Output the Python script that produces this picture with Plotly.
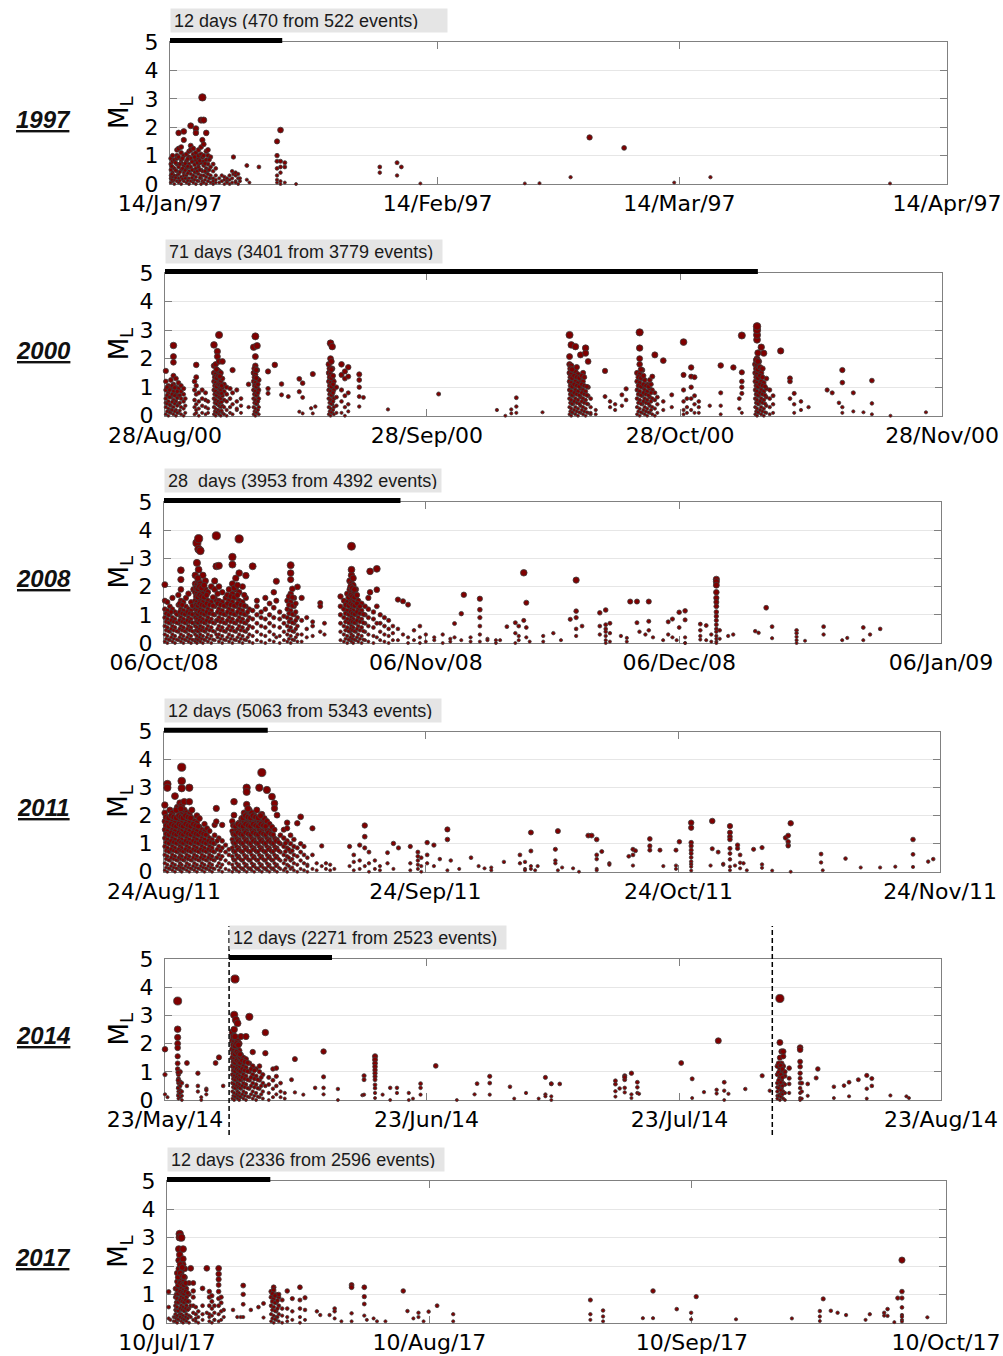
import pandas as pd
import plotly.graph_objects as go

# ---------------- data (day offset from axis start, [local magnitudes]) ----------------
YEARS = ["1997", "2000", "2008", "2011", "2014", "2017"]
STARTS = ["1997-01-14", "2000-08-28", "2008-10-06", "2011-08-24", "2014-05-23", "2017-07-10"]
ENDS = ["1997-04-14", "2000-11-28", "2009-01-06", "2011-11-24", "2014-08-23", "2017-10-10"]
TICKS = [
    ["1997-01-14", "1997-02-14", "1997-03-14", "1997-04-14"],
    ["2000-08-28", "2000-09-28", "2000-10-28", "2000-11-28"],
    ["2008-10-06", "2008-11-06", "2008-12-06", "2009-01-06"],
    ["2011-08-24", "2011-09-24", "2011-10-24", "2011-11-24"],
    ["2014-05-23", "2014-06-23", "2014-07-23", "2014-08-23"],
    ["2017-07-10", "2017-08-10", "2017-09-10", "2017-10-10"],
]
LABELS = [
    "12 days (470 from 522 events)",
    "71 days (3401 from 3779 events)",
    "28  days (3953 from 4392 events)",
    "12 days (5063 from 5343 events)",
    "12 days (2271 from 2523 events)",
    "12 days (2336 from 2596 events)",
]
# span of the black bar (start day, end day)
BARS = [(0.0, 13.0), (0.0, 70.2), (0.0, 28.0), (0.0, 12.3), (7.6, 19.8), (0.0, 12.2)]
# dashed markers of main shocks (2014 panel), day offsets
MAINSHOCKS_2014 = [7.6, 72.0]

EV_1997 = [
    (0.1, [0.05, 0.2, 0.5, 0.3, 0.9, 0.7]), (0.3, [0.1, 0.4, 0.8, 1.0, 0.6, 0.25]),
    (0.5, [0.0, 0.3, 0.55, 0.85, 0.15]), (0.8, [0.1, 0.45, 0.7, 1.0, 1.2, 0.9, 0.3]),
    (1.0, [0.05, 0.35, 0.6, 0.95, 1.8, 1.25, 0.2]), (1.3, [0.0, 0.25, 0.5, 0.75, 1.1, 1.3, 0.85]),
    (1.6, [0.1, 0.4, 0.65, 1.55, 1.85, 1.0, 0.3]), (1.9, [0.05, 0.3, 0.55, 0.8, 1.05, 0.2]),
    (2.2, [0.0, 0.2, 0.45, 0.7, 0.95, 1.15, 0.6]), (2.4, [0.1, 0.35, 0.6, 0.9, 1.35, 2.05, 1.2]),
    (2.7, [0.05, 0.3, 0.5, 0.8, 1.05, 1.25, 0.15]), (3.0, [0.0, 0.25, 0.55, 0.85, 1.1, 1.95, 1.8, 0.4]),
    (3.3, [0.1, 0.35, 0.6, 0.9, 1.2, 1.0, 0.7]), (3.6, [0.0, 0.2, 0.5, 0.75, 1.05, 1.3, 2.25, 0.3]),
    (3.75, [3.05, 1.55, 0.95, 0.45, 0.1]), (3.9, [0.05, 0.3, 0.65, 1.0, 1.4, 2.25, 0.8]),
    (4.2, [0.0, 0.25, 0.55, 0.85, 1.15, 1.8, 0.4]), (4.4, [0.1, 0.35, 0.7, 1.0, 1.2, 0.5]),
    (4.7, [0.05, 0.3, 0.6, 0.95, 0.2]), (5.0, [0.0, 0.2, 0.45, 0.7, 0.1]), (5.3, [0.05, 0.3, 0.55, 0.15]),
    (5.7, [0.05, 0.2]), (6.0, [0.1, 0.3]), (6.3, [0.0, 0.15, 0.25]), (6.6, [0.1, 0.2, 0.05]),
    (6.9, [0.3, 0.15, 0.0]), (7.2, [0.05, 0.45, 0.2]), (7.35, [0.95, 0.35]), (7.6, [0.1, 0.3, 0.4, 0.05]),
    (7.9, [0.2, 0.35, 0.0]), (8.1, [0.1, 0.2]), (8.9, [0.65, 0.15]), (9.2, [0.05]), (10.3, [0.6]),
    (12.4, [1.0, 1.5, 0.8, 0.55, 0.3, 0.05, 0.15]), (12.8, [1.9, 0.8, 0.6, 0.4, 0.1, 0.0]),
    (13.3, [0.75, 0.6, 0.05]), (14.6, [0.0]), (24.3, [0.4, 0.6]), (26.3, [0.75, 0.3]), (26.8, [0.6]),
    (29.0, [0.02]), (41.1, [0.02]), (42.8, [0.03]), (46.4, [0.24]), (48.6, [1.64]), (52.6, [1.27]),
    (58.4, [0.05]), (62.6, [0.24]), (83.4, [0.02]),
    (0.2, [0.15, 0.62, 0.35]), (0.65, [0.22, 0.48, 0.75]), (1.15, [0.12, 0.42, 0.7]),
    (1.45, [0.18, 0.55, 0.9]), (1.75, [0.2, 0.48, 0.72]), (2.05, [0.12, 0.38, 0.62, 0.88]),
    (2.55, [0.22, 0.5, 0.78]), (2.85, [0.15, 0.42, 0.68, 0.95]), (3.15, [0.12, 0.45, 0.75]),
    (3.45, [0.22, 0.5, 0.82]), (4.05, [0.15, 0.45, 0.72]), (4.55, [0.2, 0.5, 0.85]),
]

EV_2000 = [
    (0.1, [0.05, 0.3, 0.6, 0.9, 1.2, 1.57, 0.45]), (0.4, [0.0, 0.25, 0.5, 0.8, 1.05, 0.15]),
    (0.7, [0.1, 0.35, 0.65, 0.95, 1.25, 0.2]), (1.0, [0.05, 0.3, 0.55, 0.85, 1.1, 1.4, 1.87, 2.07, 2.46]),
    (1.3, [0.0, 0.2, 0.5, 0.75, 1.0, 1.3]), (1.6, [0.1, 0.4, 0.7, 0.95, 1.15]),
    (1.9, [0.05, 0.3, 0.6, 0.85, 1.05]), (2.2, [0.0, 0.25, 0.5, 0.75, 0.95]), (2.4, [0.1, 0.35, 0.6]),
    (3.5, [0.05, 0.3, 0.55, 0.9, 1.2]), (3.7, [0.1, 0.4, 0.75, 1.05, 1.35, 1.78, 0.2]),
    (4.0, [0.0, 0.25, 0.5, 0.8]), (4.4, [0.1, 0.35, 0.6, 0.9]), (4.8, [0.05, 0.3, 0.55, 0.8]),
    (5.1, [0.1, 0.25, 0.5]),
    (5.8, [0.05, 0.3, 0.6, 0.9, 1.2, 1.5, 1.75, 2.48]), (6.0, [0.0, 0.25, 0.55, 0.85, 1.15, 1.45, 1.8]),
    (6.2, [0.1, 0.4, 0.7, 1.0, 1.3, 1.6, 2.25, 2.07]), (6.4, [0.05, 0.35, 0.65, 0.95, 1.25, 1.55, 2.83, 1.9]),
    (6.6, [0.0, 0.3, 0.6, 0.9, 1.2, 1.5]), (6.8, [0.1, 0.35, 0.7, 1.0, 1.3, 1.9]),
    (7.0, [0.05, 0.3, 0.55, 0.85, 1.1]), (7.3, [0.0, 0.2, 0.5, 0.75, 1.0]), (7.7, [0.1, 0.3, 0.6, 0.95]),
    (8.0, [1.6, 0.8, 0.4, 0.05]), (8.5, [0.2, 0.5, 0.9, 0.25]), (9.0, [0.1, 0.35, 0.6]), (9.9, [1.1, 0.3]),
    (10.5, [0.05, 0.3, 0.6, 0.9, 1.2, 1.5, 2.4]),
    (10.7, [0.0, 0.25, 0.55, 0.85, 1.15, 1.45, 1.75, 2.07, 2.78]),
    (10.9, [0.1, 0.4, 0.7, 1.0, 1.3, 1.6, 2.45]), (11.1, [0.05, 0.3, 0.6, 0.9, 1.25]),
    (12.2, [1.55, 0.78, 0.95]), (13.0, [1.78]), (13.8, [1.11, 0.73]), (14.6, [0.67]),
    (15.9, [1.29, 0.84, 0.14]), (16.3, [1.14, 0.64, 0.08]), (17.3, [0.26]), (17.5, [1.46, 0.08]),
    (17.8, [0.32]),
    (19.4, [0.05, 0.3, 0.6, 0.9, 1.2, 1.5, 1.8]), (19.6, [0.0, 0.25, 0.55, 0.85, 1.15, 1.45, 2.0, 2.54]),
    (19.8, [0.1, 0.4, 0.7, 1.0, 1.3, 1.65, 2.42]), (20.0, [0.05, 0.3, 0.6, 0.9, 1.2]),
    (20.3, [0.1, 0.35, 0.65, 1.0]), (20.9, [1.8, 1.43, 0.9, 0.5, 0.1]), (21.3, [1.55, 1.3, 0.7, 0.3, 0.0]),
    (21.7, [1.7, 1.37, 0.8, 0.4, 0.15]), (23.0, [1.45, 1.25, 1.0, 0.67, 0.32]), (23.5, [0.64]),
    (26.4, [0.22]), (32.4, [0.76]), (39.3, [0.2]), (40.3, [0.0]), (41.0, [0.22, 0.08]),
    (41.6, [0.63, 0.32, 0.1]), (44.7, [0.12]),
    (47.9, [0.05, 0.3, 0.6, 0.9, 1.2, 1.5, 1.8, 2.07, 2.83]),
    (48.1, [0.0, 0.25, 0.55, 0.85, 1.15, 1.45, 1.75, 2.48]), (48.3, [0.1, 0.4, 0.7, 1.0, 1.3, 1.6]),
    (48.6, [0.05, 0.3, 0.6, 0.9, 1.2, 1.55, 2.42]), (48.9, [0.0, 0.25, 0.55, 0.85, 1.15, 1.45]),
    (49.2, [0.1, 0.35, 0.65, 0.95, 1.25, 2.13]), (49.5, [0.05, 0.3, 0.6, 0.9, 1.2, 1.5]),
    (49.8, [0.0, 0.25, 0.55, 0.85, 2.37, 2.19]), (50.1, [0.1, 0.4, 0.7, 1.0, 1.9]),
    (50.4, [0.05, 0.3, 0.6, 0.1]), (51.0, [0.05, 0.2]), (52.1, [1.57, 0.67]), (52.7, [0.3, 0.5]),
    (53.3, [0.4, 0.2]), (54.1, [0.73, 0.35]), (54.6, [0.94, 0.55]),
    (55.9, [0.05, 0.3, 0.6, 0.9, 1.2, 1.5]),
    (56.2, [0.0, 0.25, 0.55, 0.85, 1.15, 1.45, 1.8, 2.0, 2.37, 2.92]),
    (56.5, [0.1, 0.4, 0.7, 1.0, 1.3, 1.6]), (56.8, [0.05, 0.3, 0.6, 0.9, 1.25]),
    (57.1, [0.0, 0.25, 0.55, 0.85, 1.1]), (57.4, [0.1, 0.35, 0.65, 0.95, 1.25]),
    (57.7, [0.05, 0.3, 0.6, 0.9, 1.37]), (58.0, [0.0, 0.25, 0.55, 0.8, 2.13]), (58.3, [0.1, 0.4, 0.65]),
    (59.0, [1.93, 0.5, 0.2]), (60.0, [0.73, 0.3]), (61.4, [2.58, 1.43, 0.9, 0.5, 0.2, 0.05]),
    (61.8, [0.6, 0.3, 0.1]), (62.3, [1.69, 1.37, 1.0, 0.6, 0.2]), (62.7, [1.35, 0.7, 0.4, 0.1]),
    (63.2, [0.5, 0.3, 0.1]), (64.5, [0.35]), (65.8, [1.76, 0.8, 0.35, 0.05]), (67.3, [1.69]),
    (68.0, [0.6, 0.25]), (68.3, [2.81, 1.52, 1.2, 1.0, 0.78, 0.1]),
    (69.9, [0.05, 0.3, 0.6, 0.9, 1.2, 1.5, 1.8]),
    (70.1, [0.0, 0.25, 0.55, 0.85, 1.15, 1.45, 1.75, 2.0, 2.66, 2.83, 3.0, 3.13]),
    (70.3, [0.1, 0.4, 0.7, 1.0, 1.3, 1.6, 1.9]), (70.6, [0.05, 0.3, 0.6, 0.9, 1.2, 1.5, 2.4]),
    (70.9, [0.0, 0.25, 0.55, 0.85, 1.15, 2.19]), (71.2, [0.1, 0.35, 0.65, 0.95, 1.3]),
    (71.6, [0.05, 0.3, 0.6, 0.9]), (72.0, [0.1, 0.4, 0.7]), (72.9, [2.27]), (74.0, [1.31, 1.2, 0.6]),
    (74.5, [0.78, 0.4, 0.1]), (75.3, [0.5, 0.2]), (76.2, [0.3]), (78.4, [0.9]), (79.0, [0.8]),
    (79.8, [0.45]), (80.2, [1.6, 1.16, 0.3, 0.1]), (81.5, [0.8, 0.15]), (82.7, [0.12]),
    (83.7, [1.23, 0.43, 0.05]), (85.9, [0.0]), (90.1, [0.12]),
    # additional readings inside the dense swarms
    (0.25, [0.15, 0.42, 0.72, 1.0]), (0.55, [0.12, 0.38, 0.65, 0.9]), (0.85, [0.2, 0.48, 0.75, 1.05]),
    (1.15, [0.15, 0.42, 0.7, 0.98]), (1.45, [0.1, 0.35, 0.62, 0.85]), (1.75, [0.18, 0.45, 0.72]),
    (5.9, [0.15, 0.45, 0.75, 1.05, 1.35]), (6.1, [0.12, 0.42, 0.72, 1.02, 1.32, 1.62]),
    (6.3, [0.2, 0.5, 0.8, 1.1, 1.4]), (6.5, [0.15, 0.45, 0.78, 1.08, 1.38]), (6.7, [0.18, 0.48, 0.78, 1.05]),
    (10.6, [0.15, 0.45, 0.75, 1.05, 1.35, 1.65]), (10.8, [0.12, 0.42, 0.72, 1.02, 1.32, 1.6]),
    (11.0, [0.2, 0.5, 0.8, 1.1]), (19.5, [0.15, 0.45, 0.75, 1.05, 1.35, 1.65]),
    (19.7, [0.12, 0.42, 0.72, 1.02, 1.32, 1.62, 1.9]), (19.9, [0.2, 0.5, 0.8, 1.1, 1.4]),
    (48.0, [0.15, 0.45, 0.75, 1.05, 1.35, 1.65]), (48.2, [0.12, 0.42, 0.72, 1.02, 1.32, 1.62]),
    (48.45, [0.2, 0.5, 0.8, 1.1, 1.4]), (48.75, [0.15, 0.45, 0.75, 1.05, 1.35, 1.7]),
    (49.05, [0.12, 0.42, 0.72, 1.02, 1.32]), (49.35, [0.2, 0.5, 0.8, 1.1, 1.4]),
    (49.65, [0.15, 0.45, 0.75, 1.05, 1.35]), (49.95, [0.12, 0.42, 0.72, 1.02]),
    (56.05, [0.15, 0.45, 0.75, 1.05, 1.35]), (56.35, [0.12, 0.42, 0.72, 1.02, 1.32, 1.62]),
    (56.65, [0.2, 0.5, 0.8, 1.1, 1.4]), (56.95, [0.15, 0.45, 0.75, 1.05]),
    (57.25, [0.12, 0.42, 0.72, 1.02]), (57.55, [0.2, 0.5, 0.8, 1.1]),
    (70.0, [0.15, 0.45, 0.75, 1.05, 1.35, 1.65, 1.95]), (70.2, [0.12, 0.42, 0.72, 1.02, 1.32, 1.62, 1.9, 2.2]),
    (70.45, [0.2, 0.5, 0.8, 1.1, 1.4, 1.7]), (70.75, [0.15, 0.45, 0.75, 1.05, 1.35, 1.65]),
    (71.05, [0.12, 0.42, 0.72, 1.02]),
]

EV_2008 = [
    (0.1, [0.05, 0.3, 0.6, 0.9, 1.2, 1.5, 2.07]), (0.4, [0.0, 0.25, 0.55, 0.85, 1.15, 1.45]),
    (0.7, [0.1, 0.4, 0.7, 1.0, 1.3]), (1.0, [0.05, 0.3, 0.6, 0.9, 1.2, 1.6]),
    (1.3, [0.0, 0.25, 0.55, 0.85, 1.1]), (1.7, [0.1, 0.4, 0.7, 1.0, 1.35, 1.7]),
    (2.0, [0.05, 0.3, 0.6, 0.9, 1.2, 1.5, 1.9, 2.25, 2.58]), (2.3, [0.0, 0.25, 0.55, 0.85, 1.15, 1.45]),
    (2.6, [0.1, 0.4, 0.7, 1.0, 1.3, 1.6]), (2.9, [0.05, 0.3, 0.6, 0.9, 1.2, 1.75]),
    (3.2, [0.0, 0.25, 0.55, 0.85, 1.15, 1.45]), (3.5, [0.1, 0.4, 0.7, 1.0, 1.3, 1.9]),
    (3.7, [0.05, 0.3, 0.6, 0.9, 1.2, 1.5, 1.8, 2.1, 2.4]),
    (3.9, [0.0, 0.25, 0.55, 0.85, 1.15, 1.45, 1.75, 2.05, 2.84, 3.55]),
    (4.1, [0.1, 0.4, 0.7, 1.0, 1.3, 1.6, 1.9, 2.2, 2.6, 3.33, 3.7]),
    (4.3, [0.05, 0.3, 0.6, 0.9, 1.2, 1.5, 1.8, 2.1, 3.27]),
    (4.6, [0.0, 0.25, 0.55, 0.85, 1.15, 1.45, 1.75, 2.0, 2.4]),
    (4.9, [0.1, 0.4, 0.7, 1.0, 1.3, 1.6, 1.9, 2.2]), (5.2, [0.05, 0.3, 0.6, 0.9, 1.2, 1.5, 1.8]),
    (5.6, [0.0, 0.25, 0.55, 0.85, 1.15, 1.45, 2.0]), (6.0, [0.1, 0.4, 0.7, 1.0, 1.3, 1.6, 1.9, 2.2]),
    (6.2, [3.8, 2.72, 1.5, 0.8, 0.3]), (6.5, [0.05, 0.3, 0.6, 0.9, 1.2, 1.5, 2.0, 2.74]),
    (6.9, [0.0, 0.25, 0.55, 0.85, 1.15, 1.45, 1.8]), (7.3, [0.1, 0.4, 0.7, 1.0, 1.3, 1.6]),
    (7.7, [0.05, 0.3, 0.6, 0.9, 1.2, 1.5, 1.9]),
    (8.1, [0.0, 0.25, 0.55, 0.85, 1.15, 1.45, 1.75, 2.1, 2.78, 3.05]),
    (8.5, [0.1, 0.4, 0.7, 1.0, 1.3, 1.6, 1.9, 2.3]),
    (8.9, [0.05, 0.3, 0.6, 0.9, 1.2, 1.5, 1.8, 2.48, 3.69]),
    (9.3, [0.0, 0.25, 0.55, 0.85, 1.15, 1.45, 2.0]), (9.7, [0.1, 0.4, 0.7, 1.0, 1.3, 1.6, 2.39]),
    (10.1, [0.05, 0.3, 0.6, 0.9, 1.2]), (10.5, [0.0, 0.25, 0.55, 0.85, 1.15, 2.72]),
    (11.0, [0.1, 0.4, 0.7, 1.0, 1.3, 1.5]), (11.5, [0.05, 0.3, 0.6, 0.9, 1.1]),
    (12.0, [0.0, 0.25, 0.55, 0.85, 1.2, 1.6]), (12.5, [0.1, 0.4, 0.7, 1.0, 1.4]),
    (13.0, [0.05, 0.3, 0.6, 0.9, 1.25, 1.8]), (13.3, [2.19, 1.5, 0.2]),
    (13.7, [0.0, 0.25, 0.55, 0.85, 1.1]), (14.2, [0.1, 0.4, 0.7, 0.95]),
    (14.6, [0.05, 0.3, 0.6, 0.9, 1.2, 1.5]),
    (15.0, [0.0, 0.25, 0.55, 0.85, 1.15, 1.45, 1.75, 2.25, 2.48, 2.76]),
    (15.4, [0.1, 0.4, 0.7, 1.0, 1.3, 1.6]), (15.8, [0.05, 0.3, 0.6, 0.9, 1.99]),
    (16.3, [1.6, 0.8, 0.3, 0.05]), (16.9, [0.9, 0.5, 0.2]), (17.6, [0.6, 0.75, 0.25]),
    (18.5, [1.42, 1.3, 0.4]), (19.0, [0.7, 0.3]),
    (20.9, [0.1, 0.4, 0.7, 1.0, 1.3, 1.65]), (21.3, [0.05, 0.3, 0.6, 0.9, 1.2, 1.5]),
    (21.7, [0.0, 0.25, 0.55, 0.85, 1.15, 1.45, 1.75]), (22.0, [0.1, 0.4, 0.7, 1.0, 1.3, 1.6, 1.9, 2.2]),
    (22.2, [0.05, 0.3, 0.6, 0.9, 1.2, 1.5, 1.8, 2.1, 2.4, 2.6, 3.43]),
    (22.4, [0.0, 0.25, 0.55, 0.85, 1.15, 1.45, 1.75, 2.05, 2.3]),
    (22.7, [0.1, 0.4, 0.7, 1.0, 1.3, 1.6, 1.9]), (23.0, [0.05, 0.3, 0.6, 0.9, 1.2, 1.5]),
    (23.4, [0.0, 0.25, 0.55, 0.85, 1.15, 1.4]), (23.8, [0.1, 0.4, 0.7, 1.0, 1.3]),
    (24.2, [0.05, 0.3, 0.6, 0.9, 1.2, 1.6]), (24.4, [2.54, 1.8]), (24.8, [0.0, 0.25, 0.55, 0.85, 1.1]),
    (25.2, [2.63, 1.89, 1.3, 0.7, 0.2]), (25.6, [0.1, 0.4, 0.7, 1.0]), (26.1, [0.05, 0.3, 0.6, 0.9]),
    (26.6, [0.0, 0.25, 0.5, 0.8]), (27.1, [0.1, 0.35, 0.6]), (27.7, [1.54, 0.5, 0.1]),
    (28.3, [1.48, 0.3]), (28.9, [1.36, 0.2, 0.0]), (29.6, [0.45, 0.1]), (30.3, [0.6, 0.2, 0.0]),
    (31.0, [0.3, 0.05]), (32.0, [0.2, 0.1]), (33.0, [0.3, 0.0]), (33.9, [0.15, 0.05]), (34.4, [0.69, 0.2]),
    (35.2, [1.04, 0.1]), (35.5, [1.71]), (36.3, [0.2, 0.05]), (37.4, [1.57, 1.18, 0.9, 0.6, 0.3, 0.05]),
    (38.3, [0.15, 0.1]), (39.3, [0.1, 0.0]), (39.8, [0.1]), (40.6, [0.58]), (41.6, [0.72, 0.35, 0.0]),
    (42.0, [0.6, 0.25, 0.1]), (42.6, [2.49, 0.8]), (42.9, [1.43, 0.55, 0.2]), (43.3, [0.05]),
    (44.9, [0.25, 0.05]), (46.1, [0.35]), (47.0, [0.1]), (48.1, [0.84]),
    (48.8, [2.23, 1.13, 0.9, 0.5, 0.25]), (49.5, [0.6]), (51.6, [1.07, 0.6, 0.3]),
    (52.3, [1.17, 0.65, 0.5, 0.4, 0.25, 0.1, 0.0]), (52.8, [0.7, 0.35, 0.05]), (54.1, [0.25]),
    (54.8, [0.18, 0.05]), (55.2, [1.47]), (56.0, [1.47, 0.72]), (56.3, [0.4]), (57.0, [0.3]),
    (57.4, [1.47, 0.77, 0.45]), (57.9, [0.2]), (59.1, [0.1]), (59.7, [0.75, 0.3]), (60.2, [0.85, 0.2]),
    (60.7, [0.1]), (61.0, [1.09, 0.55]), (61.7, [1.14, 0.82, 0.2, 0.0, 0.0]),
    (63.5, [0.67, 0.45, 0.25, 0.12]), (64.2, [0.62, 0.1]), (64.8, [0.3, 0.05]),
    (65.4, [2.26, 2.17, 2.05, 1.8, 1.6, 1.45, 1.3, 1.1, 0.95, 0.8, 0.65, 0.5, 0.4, 0.25, 0.15, 0.05, 0.0]),
    (65.8, [0.45, 0.15]), (66.8, [0.25]), (67.4, [0.3]), (70.0, [0.42]), (70.4, [0.36]), (71.3, [1.25]),
    (72.0, [0.58, 0.17]), (74.9, [0.45, 0.35, 0.22, 0.1, 0.0]), (75.9, [0.08]), (78.1, [0.58, 0.3]),
    (80.3, [0.1]), (80.9, [0.18]), (82.8, [0.55, 0.1]), (83.6, [0.3]), (84.8, [0.5]),
    # additional readings inside the dense swarms
    (0.25, [0.15, 0.45, 0.75, 1.05]), (0.55, [0.12, 0.42, 0.72, 1.0]), (0.85, [0.2, 0.5, 0.8, 1.1]),
    (1.15, [0.15, 0.45, 0.75]), (1.5, [0.12, 0.42, 0.72, 1.02]), (1.85, [0.2, 0.5, 0.8, 1.1, 1.4]),
    (2.15, [0.15, 0.45, 0.75, 1.05, 1.35]), (2.45, [0.12, 0.42, 0.72, 1.02]), (2.75, [0.2, 0.5, 0.8, 1.1]),
    (3.05, [0.15, 0.45, 0.75, 1.05]), (3.35, [0.12, 0.42, 0.72, 1.02, 1.32]),
    (3.8, [0.15, 0.45, 0.75, 1.05, 1.35, 1.65, 1.95]), (4.0, [0.12, 0.42, 0.72, 1.02, 1.32, 1.62, 1.92, 2.3]),
    (4.2, [0.2, 0.5, 0.8, 1.1, 1.4, 1.7, 2.0]), (4.45, [0.15, 0.45, 0.75, 1.05, 1.35, 1.65, 1.95]),
    (4.75, [0.12, 0.42, 0.72, 1.02, 1.32, 1.62, 2.05]), (5.05, [0.2, 0.5, 0.8, 1.1, 1.4, 1.7]),
    (5.4, [0.15, 0.45, 0.75, 1.05, 1.35]), (5.8, [0.12, 0.42, 0.72, 1.02, 1.32, 1.62]),
    (6.35, [0.2, 0.5, 0.8, 1.1, 1.4, 1.75]), (6.7, [0.15, 0.45, 0.75, 1.05, 1.35]),
    (7.1, [0.12, 0.42, 0.72, 1.02, 1.32]), (7.5, [0.2, 0.5, 0.8, 1.1, 1.4, 1.7]),
    (7.9, [0.15, 0.45, 0.75, 1.05, 1.35, 1.65]), (8.3, [0.12, 0.42, 0.72, 1.02, 1.32, 1.62, 1.95]),
    (8.7, [0.2, 0.5, 0.8, 1.1, 1.4, 1.7, 2.05]), (9.1, [0.15, 0.45, 0.75, 1.05, 1.35]),
    (9.5, [0.12, 0.42, 0.72, 1.02, 1.32, 1.7]), (9.9, [0.2, 0.5, 0.8, 1.1]),
    (14.8, [0.15, 0.45, 0.75, 1.05, 1.35, 1.65]), (15.2, [0.12, 0.42, 0.72, 1.02, 1.32, 1.62, 1.92]),
    (15.6, [0.2, 0.5, 0.8, 1.1, 1.4]),
    (21.5, [0.15, 0.45, 0.75, 1.05, 1.35]), (21.85, [0.12, 0.42, 0.72, 1.02, 1.32, 1.62]),
    (22.1, [0.2, 0.5, 0.8, 1.1, 1.4, 1.7, 2.0]), (22.3, [0.15, 0.45, 0.75, 1.05, 1.35, 1.65, 1.95]),
    (22.55, [0.12, 0.42, 0.72, 1.02, 1.32, 1.62, 1.9]), (22.85, [0.2, 0.5, 0.8, 1.1, 1.4, 1.7]),
    (23.2, [0.15, 0.45, 0.75, 1.05, 1.3]), (23.6, [0.12, 0.42, 0.72, 1.02]),
]

EV_2011 = [
    (0.1, [0.05, 0.3, 0.6, 0.9, 1.2, 1.5, 1.8, 2.1, 2.38]),
    (0.4, [0.0, 0.25, 0.55, 0.85, 1.15, 1.45, 1.75, 3.13, 3.0]),
    (0.7, [0.1, 0.4, 0.7, 1.0, 1.3, 1.6, 1.9, 2.2]), (1.0, [0.05, 0.3, 0.6, 0.9, 1.2, 1.5, 1.8, 2.1]),
    (1.3, [0.0, 0.25, 0.55, 0.85, 1.15, 1.45, 1.75, 2.7]), (1.6, [0.1, 0.4, 0.7, 1.0, 1.3, 1.6, 1.9, 2.3]),
    (1.9, [0.05, 0.3, 0.6, 0.9, 1.2, 1.5, 1.8, 2.1, 2.45]),
    (2.1, [0.0, 0.25, 0.55, 0.85, 1.15, 1.45, 1.75, 2.05, 2.35, 2.98, 3.24, 3.73]),
    (2.4, [0.1, 0.4, 0.7, 1.0, 1.3, 1.6, 1.9, 2.2, 2.5]), (2.7, [0.05, 0.3, 0.6, 0.9, 1.2, 1.5, 1.8, 2.1]),
    (3.0, [0.0, 0.25, 0.55, 0.85, 1.15, 1.45, 1.75, 2.05, 2.5, 3.0]),
    (3.3, [0.1, 0.4, 0.7, 1.0, 1.3, 1.6, 1.9, 2.2]), (3.6, [0.05, 0.3, 0.6, 0.9, 1.2, 1.5, 1.8]),
    (3.9, [0.0, 0.25, 0.55, 0.85, 1.15, 1.45, 1.75, 2.0]), (4.2, [0.1, 0.4, 0.7, 1.0, 1.3, 1.6, 1.9]),
    (4.5, [0.05, 0.3, 0.6, 0.9, 1.2, 1.5]), (4.8, [0.0, 0.25, 0.55, 0.85, 1.15, 1.45, 1.7]),
    (5.1, [0.1, 0.4, 0.7, 1.0, 1.3, 1.55]), (5.4, [0.05, 0.3, 0.6, 0.9, 1.2, 1.45]),
    (5.7, [0.0, 0.25, 0.55, 0.85, 1.15]), (6.0, [0.1, 0.4, 0.7, 1.0, 1.3, 1.67]), (6.2, [2.26, 1.79, 0.5]),
    (6.5, [0.05, 0.3, 0.6, 0.9, 1.2]), (6.9, [0.0, 0.25, 0.55, 0.85, 1.1, 1.67]),
    (7.3, [0.1, 0.4, 0.7, 0.95]), (7.7, [0.05, 0.3, 0.6, 0.8]),
    (8.1, [0.0, 0.25, 0.55, 0.85, 1.15, 1.45, 1.8]), (8.3, [0.1, 0.4, 0.7, 1.0, 1.3, 2.02, 2.5]),
    (8.6, [0.05, 0.3, 0.6, 0.9, 1.2, 1.5]), (8.9, [0.0, 0.25, 0.55, 0.85, 1.15, 1.45, 1.75]),
    (9.2, [0.1, 0.4, 0.7, 1.0, 1.3, 1.6, 1.9]), (9.5, [0.05, 0.3, 0.6, 0.9, 1.2, 1.5, 1.8, 2.1]),
    (9.8, [0.0, 0.25, 0.55, 0.85, 1.15, 1.45, 1.75, 2.05, 2.4, 3.0, 2.85]),
    (10.1, [0.1, 0.4, 0.7, 1.0, 1.3, 1.6, 1.9, 2.2]), (10.4, [0.05, 0.3, 0.6, 0.9, 1.2, 1.5, 1.8, 2.1]),
    (10.7, [0.0, 0.25, 0.55, 0.85, 1.15, 1.45, 1.75, 2.0]), (11.0, [0.1, 0.4, 0.7, 1.0, 1.3, 1.6, 1.9, 2.2]),
    (11.3, [0.05, 0.3, 0.6, 0.9, 1.2, 1.5, 1.8, 3.0]),
    (11.6, [0.0, 0.25, 0.55, 0.85, 1.15, 1.45, 1.75, 2.05, 3.54]),
    (11.9, [0.1, 0.4, 0.7, 1.0, 1.3, 1.6, 1.9]), (12.2, [0.05, 0.3, 0.6, 0.9, 1.2, 1.5, 1.8, 2.92]),
    (12.5, [0.0, 0.25, 0.55, 0.85, 1.15, 1.45, 1.7]), (12.8, [0.1, 0.4, 0.7, 1.0, 1.3, 1.6, 2.68]),
    (13.1, [0.05, 0.3, 0.6, 0.9, 1.2, 1.5, 2.44, 2.26]), (13.4, [0.0, 0.25, 0.55, 0.85, 1.15, 2.02]),
    (13.8, [0.1, 0.4, 0.7, 1.0, 1.3]), (14.2, [0.05, 0.3, 0.6, 0.9, 1.2, 1.5]),
    (14.6, [0.0, 0.25, 0.55, 0.85, 1.1, 1.55, 1.75]), (15.0, [0.1, 0.4, 0.7, 1.0, 1.3]),
    (15.4, [0.05, 0.3, 0.6, 0.9, 1.15]), (15.8, [0.0, 0.25, 0.55, 0.85, 1.73]),
    (16.2, [0.1, 0.4, 0.7, 1.0, 1.96]), (16.6, [0.05, 0.3, 0.6, 0.9]), (17.0, [0.0, 0.25, 0.5, 0.2]),
    (17.6, [1.55, 0.6, 0.1]), (18.1, [0.3, 0.05]), (18.7, [0.92, 0.2]), (19.2, [0.3, 0.1]),
    (19.7, [0.25, 0.05]), (20.2, [0.1]), (22.0, [0.9, 0.2]), (22.5, [0.6, 0.35, 0.05]),
    (23.2, [0.95, 0.4, 0.1]), (23.8, [1.65, 1.25, 0.85, 0.2]), (24.3, [0.7, 0.3, 0.0]), (25.0, [0.4, 0.1]),
    (25.6, [0.2, 0.05]), (26.5, [0.68, 0.3]), (27.2, [1.01, 0.1]), (27.8, [0.85]),
    (29.2, [0.9, 0.3, 0.05]), (30.1, [0.7, 0.55, 0.4, 0.25, 0.1]), (30.5, [0.5, 0.2, 0.0]),
    (31.2, [1.04, 0.6, 0.3]), (32.0, [0.95, 0.2]), (32.7, [0.45]), (33.6, [1.51, 1.15, 0.05]),
    (34.0, [0.4]), (35.0, [0.1]), (36.4, [0.5]), (37.3, [0.2]), (38.0, [0.12]), (38.8, [0.15, 0.05]),
    (40.3, [0.35]), (42.2, [0.6, 0.3]), (42.8, [0.35, 0.1, 0.05]), (43.5, [0.74, 1.4, 0.2, 0.1]),
    (44.0, [0.05]), (44.3, [0.2]), (46.4, [0.8, 0.4, 0.3]), (46.7, [1.45, 0.05]), (47.2, [0.15]),
    (48.5, [0.12]), (49.2, [0.0]), (50.3, [1.29]), (50.7, [1.29]), (51.3, [1.15, 0.6, 0.45, 0.1, 0.05]),
    (51.9, [0.72]), (52.8, [0.3, 0.25]), (55.1, [0.55]), (55.6, [0.8, 0.6, 0.22]), (55.9, [0.75]),
    (57.6, [1.17, 0.92, 0.77]), (58.8, [0.77]), (59.2, [0.2]), (60.7, [0.77, 0.22, 0.1]), (61.1, [1.07]),
    (62.5, [1.75, 1.57, 1.04, 0.92, 0.77, 0.65, 0.51, 0.36, 0.27, 0.18, 0.04]),
    (64.8, [0.22]), (65.0, [1.81, 0.82]), (65.7, [0.7]), (66.3, [0.25, 0.28]),
    (67.1, [1.63, 1.4, 1.25, 1.15, 0.83, 0.65, 0.44, 0.18, 0.05]),
    (67.7, [0.22]), (68.0, [0.83, 0.95]), (68.3, [0.32, 0.6, 0.12]), (68.7, [0.3]), (69.1, [0.05]),
    (69.9, [0.8]), (70.9, [0.86, 0.26, 0.14]), (72.1, [0.04]), (73.7, [1.21]),
    (74.0, [1.07, 0.95, 0.92, 1.29]), (74.3, [1.73, 0.0]), (77.9, [0.63, 0.33]), (78.1, [0.05]),
    (80.8, [0.47]), (82.6, [0.15]), (84.9, [0.15]), (86.7, [0.18]), (88.8, [1.15, 0.62, 0.17]),
    (90.6, [0.36]), (91.2, [0.45]),
    # additional readings inside the dense swarms
    (0.25, [0.15, 0.45, 0.75, 1.05, 1.35, 1.65, 1.95]), (0.55, [0.12, 0.42, 0.72, 1.02, 1.32, 1.62, 1.92]),
    (0.85, [0.2, 0.5, 0.8, 1.1, 1.4, 1.7, 2.0]), (1.15, [0.15, 0.45, 0.75, 1.05, 1.35, 1.65, 1.95]),
    (1.45, [0.12, 0.42, 0.72, 1.02, 1.32, 1.62, 1.92, 2.2]), (1.75, [0.2, 0.5, 0.8, 1.1, 1.4, 1.7, 2.0]),
    (2.0, [0.15, 0.45, 0.75, 1.05, 1.35, 1.65, 1.95, 2.25]), (2.25, [0.12, 0.42, 0.72, 1.02, 1.32, 1.62, 1.92]),
    (2.55, [0.2, 0.5, 0.8, 1.1, 1.4, 1.7, 2.0]), (2.85, [0.15, 0.45, 0.75, 1.05, 1.35, 1.65, 1.95]),
    (3.15, [0.12, 0.42, 0.72, 1.02, 1.32, 1.62, 1.92]), (3.45, [0.2, 0.5, 0.8, 1.1, 1.4, 1.7]),
    (3.75, [0.15, 0.45, 0.75, 1.05, 1.35, 1.65]), (4.05, [0.12, 0.42, 0.72, 1.02, 1.32, 1.62]),
    (4.35, [0.2, 0.5, 0.8, 1.1, 1.4]), (4.65, [0.15, 0.45, 0.75, 1.05, 1.35]),
    (4.95, [0.12, 0.42, 0.72, 1.02, 1.32]), (5.25, [0.2, 0.5, 0.8, 1.1]), (5.55, [0.15, 0.45, 0.75, 1.05]),
    (5.85, [0.12, 0.42, 0.72, 1.02]), (6.3, [0.2, 0.5, 0.8, 1.1]), (6.7, [0.15, 0.45, 0.75]),
    (8.2, [0.15, 0.45, 0.75, 1.05, 1.35, 1.65]), (8.45, [0.12, 0.42, 0.72, 1.02, 1.32, 1.62]),
    (8.75, [0.2, 0.5, 0.8, 1.1, 1.4, 1.7]), (9.05, [0.15, 0.45, 0.75, 1.05, 1.35, 1.65]),
    (9.35, [0.12, 0.42, 0.72, 1.02, 1.32, 1.62, 1.92]), (9.65, [0.2, 0.5, 0.8, 1.1, 1.4, 1.7, 2.0]),
    (9.95, [0.15, 0.45, 0.75, 1.05, 1.35, 1.65, 1.95, 2.25]), (10.25, [0.12, 0.42, 0.72, 1.02, 1.32, 1.62, 1.92]),
    (10.55, [0.2, 0.5, 0.8, 1.1, 1.4, 1.7, 2.0]), (10.85, [0.15, 0.45, 0.75, 1.05, 1.35, 1.65, 1.95]),
    (11.15, [0.12, 0.42, 0.72, 1.02, 1.32, 1.62, 1.92]), (11.45, [0.2, 0.5, 0.8, 1.1, 1.4, 1.7, 2.0]),
    (11.75, [0.15, 0.45, 0.75, 1.05, 1.35, 1.65]), (12.05, [0.12, 0.42, 0.72, 1.02, 1.32, 1.62]),
    (12.35, [0.2, 0.5, 0.8, 1.1, 1.4]), (12.65, [0.15, 0.45, 0.75, 1.05, 1.35]),
    (12.95, [0.12, 0.42, 0.72, 1.02, 1.32]), (13.25, [0.2, 0.5, 0.8, 1.1]), (13.6, [0.15, 0.45, 0.75, 1.05]),
    (14.4, [0.12, 0.42, 0.72, 1.02]), (14.8, [0.2, 0.5, 0.8]), (15.2, [0.15, 0.45, 0.75]),
]

EV_2014 = [
    (0.0, [1.8, 0.9, 0.2]), (0.3, [0.1]), (1.5, [3.51, 2.51, 2.22, 2.0, 1.85, 1.55, 1.3, 1.1]),
    (1.6, [0.05, 0.3, 0.6, 0.9, 0.2, 0.45, 0.75]), (1.8, [0.1, 0.35, 0.65, 1.0, 0.5, 0.25]),
    (2.0, [0.0, 0.3, 0.6, 0.15]), (2.6, [1.31, 0.5]), (3.9, [0.95, 0.5, 0.3]), (4.3, [0.1, 0.0]),
    (4.9, [0.4, 0.2, 0.35]), (6.0, [1.31]), (6.4, [1.51]), (6.9, [0.5]),
    (8.0, [0.05, 0.3, 0.6, 0.9, 1.2, 1.5, 1.8, 2.1, 2.4]),
    (8.2, [0.0, 0.25, 0.55, 0.85, 1.15, 1.45, 1.75, 2.05, 2.5, 3.02]), (8.3, [4.29]),
    (8.4, [0.1, 0.4, 0.7, 1.0, 1.3, 1.6, 1.9, 2.2, 2.84]),
    (8.6, [0.05, 0.3, 0.6, 0.9, 1.2, 1.5, 1.8, 2.1, 2.72]),
    (8.8, [0.0, 0.25, 0.55, 0.85, 1.15, 1.45, 1.75, 2.0]), (9.0, [0.1, 0.4, 0.7, 1.0, 1.3, 1.6, 2.25]),
    (9.3, [0.05, 0.3, 0.6, 0.9, 1.2, 1.5]), (9.6, [0.0, 0.25, 0.55, 0.85, 1.15, 1.45, 2.25]),
    (10.0, [0.1, 0.4, 0.7, 1.0, 1.3, 2.95]), (10.4, [0.05, 0.3, 0.6, 0.9, 1.2, 1.7]),
    (10.8, [0.0, 0.25, 0.55, 0.85, 1.1]), (11.2, [0.1, 0.4, 0.7, 1.0, 1.2]), (11.6, [0.05, 0.3, 0.6, 0.9]),
    (11.9, [2.39, 1.66, 0.5]), (12.3, [0.0, 0.25, 0.55, 0.8]), (12.8, [0.1, 0.4, 0.7, 1.1]),
    (13.2, [1.13, 0.84, 0.5, 0.2]), (13.7, [0.3, 0.1, 0.6]), (14.2, [0.05, 0.25]), (15.0, [0.72]),
    (15.4, [1.45, 0.27]), (16.4, [0.19]), (17.8, [0.43]), (18.8, [1.72, 0.82, 0.43, 0.2]),
    (20.5, [0.39, 0.0]), (23.4, [0.17]), (23.6, [0.86, 0.72, 0.19]),
    (24.9, [1.55, 1.43, 1.3, 1.18, 1.06, 0.95, 0.83, 0.72, 0.54, 0.42, 0.25, 0.07]),
    (25.8, [0.19]), (26.7, [0.43, 0.0]), (27.5, [0.43, 0.25]), (28.9, [0.25, 0.0]), (29.4, [0.05]),
    (30.3, [0.58, 0.43, 0.19]), (32.1, [1.21]), (34.6, [0.0]), (36.7, [0.2]), (37.0, [0.58]),
    (38.5, [0.84, 0.6, 0.19]), (40.9, [0.47]), (41.4, [0.05]), (42.8, [0.25]), (44.3, [0.05]),
    (45.1, [0.8, 0.2, 0.13]), (45.8, [0.57, 0.58, 0.13, 0.0]), (46.8, [0.57]),
    (53.4, [0.68, 0.56, 0.31, 0.12]), (53.9, [0.41]), (54.5, [0.86, 0.72, 0.81, 0.43, 0.27]),
    (55.3, [0.95, 0.2, 0.07]), (56.0, [0.25, 0.45, 0.63]), (56.2, [0.22]), (61.2, [1.31]),
    (62.5, [0.75, 0.07]), (63.9, [0.28]), (65.4, [0.36, 0.23]), (65.6, [2.1]), (66.3, [0.63, 0.33, 0.0]),
    (66.8, [0.22]), (68.8, [0.39]), (70.8, [0.86]), (71.7, [0.33]),
    (72.6, [0.05, 0.3, 0.6, 0.9, 1.2, 0.15, 0.45]), (72.9, [3.6, 2.04, 1.5, 1.1, 0.8, 0.5, 0.2, 0.0]),
    (73.1, [0.1, 0.4, 0.7, 1.0, 1.3, 1.72, 0.25]), (73.3, [0.05, 0.3, 0.6, 0.9, 1.2, 1.55, 1.72]),
    (73.5, [0.0, 0.25, 0.55, 0.85, 1.0]), (74.0, [1.13, 0.77, 0.57, 0.25]),
    (75.3, [1.86, 1.78, 1.36, 1.18, 0.95, 0.77, 0.6, 0.42, 0.25, 0.07, 0.0]),
    (75.5, [0.05, 0.6, 0.3]), (76.2, [0.57, 0.15]), (77.2, [0.78]), (77.4, [1.1]), (79.3, [0.47, 0.07]),
    (80.5, [0.51]), (81.1, [0.63, 0.13]), (82.2, [0.72]), (83.2, [0.87, 0.4, 0.05]), (83.8, [0.76, 0.5]),
    (86.0, [0.16]), (87.9, [0.13]), (88.2, [0.07]),
    # additional readings inside the dense swarms
    (1.55, [0.15, 0.42, 0.7, 0.98]), (8.1, [0.15, 0.45, 0.75, 1.05, 1.35, 1.65, 1.95, 2.25]),
    (8.3, [0.12, 0.42, 0.72, 1.02, 1.32, 1.62, 1.92, 2.25]), (8.5, [0.2, 0.5, 0.8, 1.1, 1.4, 1.7, 2.0]),
    (8.7, [0.15, 0.45, 0.75, 1.05, 1.35, 1.65, 1.95]), (8.9, [0.12, 0.42, 0.72, 1.02, 1.32, 1.62]),
    (9.15, [0.2, 0.5, 0.8, 1.1, 1.4]), (9.45, [0.15, 0.45, 0.75, 1.05, 1.35]),
    (9.8, [0.12, 0.42, 0.72, 1.02, 1.32]), (10.2, [0.2, 0.5, 0.8, 1.1]), (10.6, [0.15, 0.45, 0.75, 1.05]),
    (11.0, [0.12, 0.42, 0.72]), (11.4, [0.2, 0.5, 0.8]), (72.75, [0.15, 0.42, 0.7, 0.98, 1.3]),
    (73.0, [0.12, 0.35, 0.62, 0.9, 1.22]), (73.2, [0.2, 0.5, 0.8, 1.1]),
]

EV_2017 = [
    (0.2, [1.09, 0.55, 0.15]), (0.4, [0.1]), (0.8, [0.05, 0.2]), (1.0, [0.05, 0.3, 0.6, 0.9, 1.2, 0.2, 0.45]),
    (1.2, [0.0, 0.25, 0.55, 0.85, 1.15, 1.45, 1.75]), (1.4, [0.1, 0.4, 0.7, 1.0, 1.3, 1.6, 1.9, 2.2, 2.6]),
    (1.5, [3.13, 3.01, 2.4, 1.5, 0.8, 0.3]), (1.7, [0.05, 0.3, 0.6, 0.9, 1.2, 1.5, 1.8, 2.1, 3.0]),
    (1.9, [0.0, 0.25, 0.55, 0.85, 1.15, 1.45, 2.6, 2.25, 2.05]), (2.1, [0.1, 0.4, 0.7, 1.0, 1.3, 1.6, 1.9]),
    (2.3, [0.05, 0.3, 0.6, 0.9, 1.2]), (2.6, [0.0, 0.25, 0.5, 0.75, 1.0, 1.4]), (2.8, [1.92, 0.6, 0.2]),
    (3.1, [0.1, 0.35, 0.6, 0.9, 1.12, 1.4]), (3.4, [0.05, 0.3, 0.55, 0.15]), (3.7, [0.0, 0.2, 0.4]),
    (4.2, [1.21, 0.6, 0.3, 0.1]), (4.7, [1.92, 0.35]), (5.0, [0.05, 0.3, 0.6, 0.9, 1.1, 0.2]),
    (5.3, [0.0, 0.25, 0.5, 0.75, 0.95]), (5.6, [0.1, 0.35, 0.6, 0.1]),
    (6.1, [1.92, 1.72, 1.53, 1.33, 1.1, 0.85, 0.6, 0.3, 0.05]), (6.4, [0.1, 0.4, 0.7, 0.9]),
    (6.7, [0.2, 0.45]), (7.8, [0.45]), (8.3, [0.2]), (8.7, [0.2]), (9.0, [1.31, 1.0, 0.65, 0.2]),
    (9.9, [0.45]), (10.8, [0.55]), (11.4, [0.68, 0.18]), (12.3, [0.05, 0.3, 0.6, 0.9, 1.1]),
    (12.6, [0.0, 0.25, 0.55, 0.85, 1.25, 1.15]), (12.9, [0.1, 0.4, 0.7, 1.0, 0.2]),
    (13.2, [0.05, 0.3, 0.6, 0.9, 1.0]), (13.6, [0.0, 0.25, 0.5, 0.8]), (14.2, [1.12, 0.5, 0.2, 0.05]),
    (14.8, [0.85, 0.4, 0.1]), (15.7, [1.25, 0.8, 0.5, 0.2, 0.0]), (16.3, [0.88, 0.45, 0.1]),
    (17.7, [0.4]), (18.1, [0.27]), (19.2, [0.27]), (19.8, [0.5, 0.4, 0.15]), (20.6, [0.05]),
    (21.8, [1.33, 1.25, 0.33, 0.05]), (23.3, [1.25, 0.92, 0.66, 0.25]), (23.6, [0.1]), (24.4, [0.15]),
    (24.8, [0.05]), (25.8, [0.05]), (27.9, [1.12]), (28.4, [0.41]), (29.1, [0.15]), (29.7, [0.35, 0.2]),
    (30.3, [0.05]), (30.9, [0.39]), (31.9, [0.6]), (33.8, [0.3, 0.05]), (50.0, [0.8, 0.3, 0.1]),
    (51.5, [0.43, 0.22, 0.05]), (56.2, [0.16]), (57.4, [1.12, 0.16]), (60.2, [0.48]),
    (61.9, [0.35, 0.12]), (62.5, [0.92]), (67.2, [0.12]), (73.8, [0.15]), (77.1, [0.22, 0.41, 0.06]),
    (77.5, [0.84]), (78.4, [0.42]), (79.2, [0.35]), (80.2, [0.27]), (82.5, [0.1]), (83.0, [0.3]),
    (84.7, [0.35, 0.25]), (85.1, [0.48, 0.24]), (85.9, [0.02]), (86.3, [0.87]),
    (86.8, [2.21, 1.1, 0.87, 0.54, 0.27, 0.21, 0.1, 0.04]), (89.8, [0.19]),
    # additional readings inside the dense swarms
    (1.1, [0.15, 0.42, 0.72, 1.0]), (1.3, [0.12, 0.42, 0.72, 1.02, 1.32, 1.6]),
    (1.55, [0.2, 0.5, 0.8, 1.1, 1.4, 1.75, 2.05]), (1.8, [0.15, 0.45, 0.75, 1.05, 1.35, 1.65, 1.95]),
    (2.0, [0.12, 0.42, 0.72, 1.02, 1.32, 1.62]), (2.2, [0.2, 0.5, 0.8, 1.1, 1.4]),
    (2.45, [0.15, 0.45, 0.75, 1.05]), (12.45, [0.15, 0.45, 0.75, 1.02]), (12.75, [0.12, 0.42, 0.7, 0.95]),
    (13.05, [0.2, 0.5, 0.78]),
]

EVENTS = [EV_1997, EV_2000, EV_2008, EV_2011, EV_2014, EV_2017]
Y_TICKS = [0, 1, 2, 3, 4, 5]

# ---------------- layout geometry (pixels) ----------------
W, H = 1003, 1356
PANELS = [(170, 947, 42, 184), (165, 942, 273, 415.7), (164, 941, 502, 643),
          (164, 940, 731.7, 871.7), (165, 941, 959, 1100), (167, 946, 1181, 1322.7)]

FRAME = "#808080"
TICKFONT = dict(family="DejaVu Sans", size=22, color="#000000")

fig = go.Figure()
layout = dict(width=W, height=H, margin=dict(l=0, r=0, t=0, b=0, autoexpand=False),
              paper_bgcolor="white", plot_bgcolor="white", showlegend=False)
annotations, shapes = [], []


def flatten(ev):
    d, m = [], []
    for day, mags in ev:
        for v in mags:
            d.append(day)
            m.append(v)
    return d, m


for i in range(6):
    n = i + 1
    xs_name = "x" if n == 1 else f"x{n}"
    ys_name = "y" if n == 1 else f"y{n}"
    xk = "xaxis" if n == 1 else f"xaxis{n}"
    yk = "yaxis" if n == 1 else f"yaxis{n}"
    L, R, T, B = PANELS[i]
    t0 = pd.Timestamp(STARTS[i])
    days, mags = flatten(EVENTS[i])
    xs = t0 + pd.to_timedelta(days, unit="D")
    sizes = [min(3.0 + 1.45 * m, 8.2) for m in mags]
    fig.add_trace(go.Scatter(
        x=xs, y=mags, mode="markers", xaxis=xs_name, yaxis=ys_name, cliponaxis=False,
        hoverinfo="skip",
        marker=dict(size=sizes, color="#800000", opacity=1,
                    line=dict(color="#3c3c3c", width=0.8)),
    ))
    layout[xk] = dict(
        domain=[L / W, R / W], anchor=ys_name, type="date", range=[STARTS[i], ENDS[i]],
        tickmode="array", tickvals=TICKS[i], tickformat="%d/%b/%y", ticks="inside", ticklen=7,
        tickcolor=FRAME, showline=True, linecolor=FRAME, linewidth=1, mirror="ticks",
        showgrid=False, zeroline=False, tickfont=TICKFONT, layer="below traces",
        automargin=False,
    )
    layout[yk] = dict(
        domain=[1 - B / H, 1 - T / H], anchor=xs_name, range=[0, 5], tickmode="array",
        tickvals=Y_TICKS, ticks="inside", ticklen=7, tickcolor=FRAME, showline=True,
        linecolor=FRAME, linewidth=1, mirror="ticks", showgrid=True, gridcolor="#e6e6e6",
        gridwidth=1, zeroline=False, tickfont=TICKFONT, layer="below traces",
        ticklabelstandoff=6, automargin=False,
    )
    # black duration bar
    b0, b1 = BARS[i]
    shapes.append(dict(type="line", xref=xs_name, yref="paper",
                       x0=t0 + pd.Timedelta(days=b0), x1=t0 + pd.Timedelta(days=b1),
                       y0=1 - (T - 1.5) / H, y1=1 - (T - 1.5) / H,
                       line=dict(color="black", width=5)))
    # grey label box
    annotations.append(dict(
        xref=xs_name, yref=f"{ys_name} domain", x=t0 + pd.Timedelta(days=b0), y=1,
        xanchor="left", yanchor="bottom", yshift=9, text=LABELS[i], showarrow=False,
        align="left", width=270, height=17, borderpad=3, bgcolor="#e5e5e5",
        font=dict(family="Liberation Sans", size=18, color="#1a1a1a"),
    ))
    # year label
    annotations.append(dict(
        xref="paper", yref=f"{ys_name} domain", x=43 / W, y=0.5, yshift=-6,
        xanchor="center", yanchor="middle", showarrow=False,
        text=f"<b><i><u>{YEARS[i]}</u></i></b>",
        font=dict(family="Liberation Sans", size=24, color="#111111"),
    ))
    # magnitude axis label
    annotations.append(dict(
        xref="paper", yref=f"{ys_name} domain", x=120 / W, y=0.5, xanchor="center",
        yanchor="middle", showarrow=False, textangle=-90, text="M<sub>L</sub>",
        font=dict(family="DejaVu Sans", size=26, color="#000000"),
    ))

# dashed main-shock markers in the 2014 panel
t14 = pd.Timestamp(STARTS[4])
for d in MAINSHOCKS_2014:
    shapes.append(dict(type="line", xref="x5", yref="paper",
                       x0=t14 + pd.Timedelta(days=d), x1=t14 + pd.Timedelta(days=d),
                       y0=1 - 1135 / H, y1=1 - 926 / H,
                       line=dict(color="black", width=1.5, dash="5px,3px")))

layout["annotations"] = annotations
layout["shapes"] = shapes
fig.update_layout(**layout)
fig.write_html("out.html")
